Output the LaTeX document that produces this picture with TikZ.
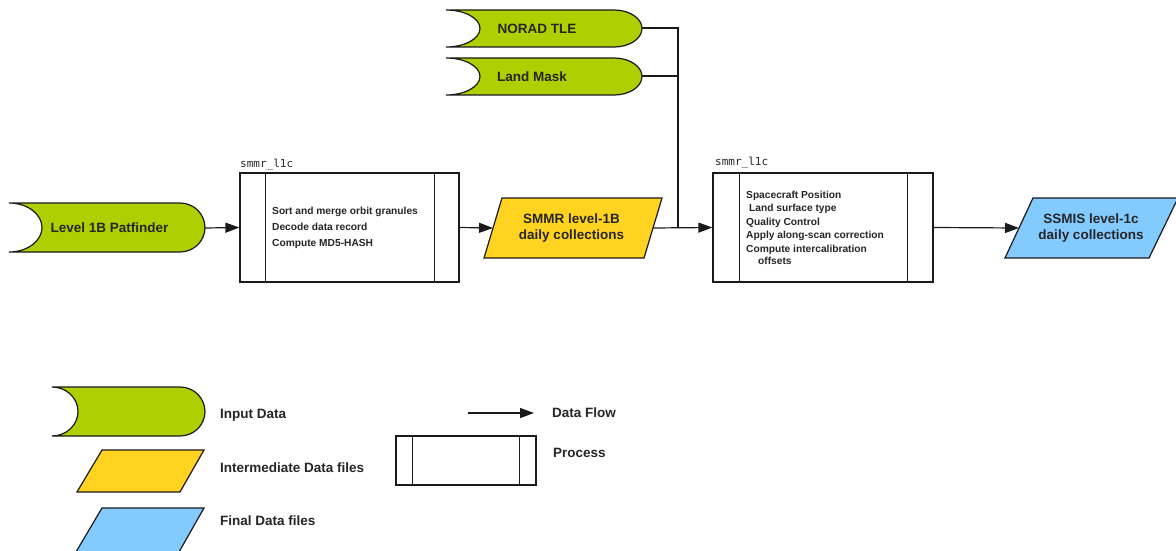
\documentclass[tikz,border=0pt]{standalone}
\usepackage{fontspec}
\setmainfont{Liberation Sans}
\newfontfamily\monofam{DejaVu Sans Mono}
\usetikzlibrary{arrows.meta}
\definecolor{greenfill}{HTML}{AECF00}
\definecolor{yellowfill}{HTML}{FFD320}
\definecolor{bluefill}{HTML}{83CAFF}
\definecolor{linec}{HTML}{1A1A1A}
\definecolor{txt}{HTML}{262626}
\newcommand{\StoreShape}[6]{% x0, ytop, x1, ybottom, rleft, rright
  \pgfmathsetmacro\SSym{(#2+#4)/2}
  \pgfmathsetmacro\SShh{(#4-#2)/2}
  \draw[shapeline, fill=greenfill] (#1,#2) -- (#3,#2)
    .. controls ({#3+0.552*#6},#2) and ({#3+#6},{\SSym-0.552*\SShh}) .. ({#3+#6},\SSym)
    .. controls ({#3+#6},{\SSym+0.552*\SShh}) and ({#3+0.552*#6},#4) .. (#3,#4)
    -- (#1,#4)
    .. controls ({#1+0.552*#5},#4) and ({#1+#5},{\SSym+0.552*\SShh}) .. ({#1+#5},\SSym)
    .. controls ({#1+#5},{\SSym-0.552*\SShh}) and ({#1+0.552*#5},#2) .. (#1,#2) -- cycle;
}
\begin{document}
\begin{tikzpicture}[x=1pt,y=-1pt,
  shapeline/.style={line width=1.2pt, draw=linec},
  conn/.style={line width=1.2pt, draw=linec},
  arr/.style={conn, -{Triangle[length=14pt,width=10pt]}},
  big/.style={font=\bfseries\fontsize{13.5}{16}\selectfont, text=txt, inner sep=0pt, align=center},
  small/.style={font=\bfseries\fontsize{10.2}{13.5}\selectfont, text=txt, inner sep=0pt, align=left},
  legtext/.style={font=\bfseries\fontsize{13.5}{16}\selectfont, text=txt, inner sep=0pt, anchor=west},
  monolabel/.style={font=\monofam\fontsize{11}{13}\selectfont, text=txt, inner sep=0pt, anchor=west},
  procbox/.style={draw=linec, line width=1.2pt, fill=white, inner sep=0pt}
]
\useasboundingbox (0,0) rectangle (1176,551);

% ---------- input data shapes ----------
\StoreShape{9}{203}{180}{252}{33}{25}
\node[big] (patf) at (109.5,228) {Level 1B Patfinder};
\coordinate (patfE) at (205,228);

\StoreShape{446}{10}{614}{47}{34}{28}
\node[big] (norad) at (537,28.5) {NORAD TLE};
\coordinate (noradE) at (642,28);

\StoreShape{446}{58}{614}{95}{34}{28}
\node[big] (land) at (532,76.5) {Land Mask};
\coordinate (landE) at (642,76);

% ---------- process boxes ----------
\node[procbox, minimum width=219pt, minimum height=109pt] (p1) at (349.5,227.5) {};
\draw[conn] ([xshift=26pt]p1.north west) -- ([xshift=26pt]p1.south west);
\draw[conn] ([xshift=-25pt]p1.north east) -- ([xshift=-25pt]p1.south east);
\node[monolabel] (lab1) at (240,165) {smmr\_l1c};
\node[small, anchor=west, font=\bfseries\fontsize{10.2}{16}\selectfont] (t1) at (272,228)
  {Sort and merge orbit granules\\Decode data record\\Compute MD5-HASH};

\node[procbox, minimum width=220pt, minimum height=109pt] (p2) at (823,227.5) {};
\draw[conn] ([xshift=27pt]p2.north west) -- ([xshift=27pt]p2.south west);
\draw[conn] ([xshift=-26pt]p2.north east) -- ([xshift=-26pt]p2.south east);
\node[monolabel] (lab2) at (715,163) {smmr\_l1c};
\node[small, anchor=west] (t2) at (746,227.5)
  {Spacecraft Position\\\hspace{3pt}Land surface type\\Quality Control\\Apply along-scan correction\\Compute intercalibration\\[-1.5pt]\hspace{12pt}offsets};

% ---------- intermediate / final data ----------
\draw[shapeline, fill=yellowfill] (502,198) -- (662,198) -- (644,258) -- (484,258) -- cycle;
\node[big] (smmr) at (571.5,228) {SMMR level-1B\\daily collections};
\coordinate (smmrW) at (493,228);
\coordinate (smmrE) at (653,228);

\draw[shapeline, fill=bluefill] (1033,198) -- (1178,198) -- (1149,258) -- (1005,258) -- cycle;
\node[big] (ssmis) at (1091,228) {SSMIS level-1c\\daily collections};
\coordinate (ssmisW) at (1019,228);

% ---------- connectors ----------
\coordinate (junc) at (678,228);
\draw[arr] (patfE) -- (p1.west);
\draw[arr] (p1.east) -- (smmrW);
\draw[arr] (smmrE) -- (p2.west);
\draw[conn] (noradE) -| (junc);
\draw[conn] (landE) -- (landE -| junc);
\draw[arr] (p2.east) -- (ssmisW);

% ---------- legend ----------
\StoreShape{52}{387}{180}{436}{26}{25}
\node[legtext] (lg1) at (220,415) {Input Data};

\draw[shapeline, fill=yellowfill] (102,450) -- (204,450) -- (180,492) -- (77,492) -- cycle;
\node[legtext] (lg2) at (220,468) {Intermediate Data files};

\draw[shapeline, fill=bluefill] (102,508) -- (204,508) -- (179,552) -- (76,552) -- cycle;
\node[legtext] (lg3) at (220,521) {Final Data files};

\coordinate (lga) at (468,413);
\coordinate (lgb) at (534,413);
\draw[arr] (lga) -- (lgb);
\node[legtext] (lg4) at (552,413) {Data Flow};

\node[procbox, minimum width=140pt, minimum height=49pt] (lp) at (466,460.5) {};
\draw[conn] ([xshift=17pt]lp.north west) -- ([xshift=17pt]lp.south west);
\draw[conn] ([xshift=-17pt]lp.north east) -- ([xshift=-17pt]lp.south east);
\node[legtext] (lg5) at (553,453) {Process};
\end{tikzpicture}
\end{document}
